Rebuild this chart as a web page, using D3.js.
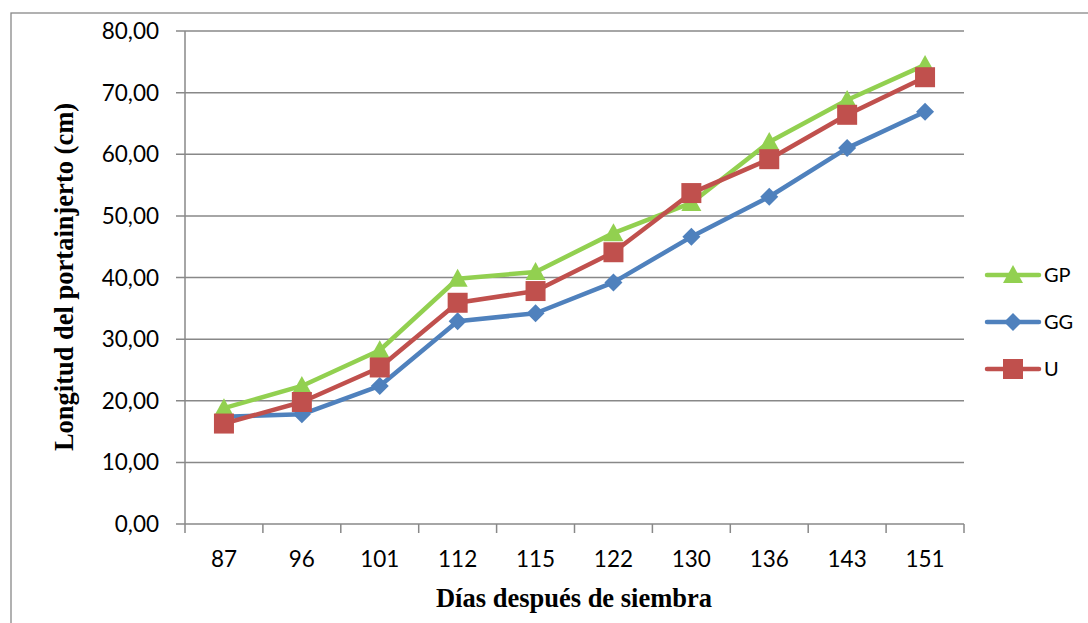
<!DOCTYPE html>
<html><head><meta charset="utf-8">
<script src="https://cdn.jsdelivr.net/npm/d3@7"></script>
<style>body{margin:0;background:#fff;}svg{display:block;}</style>
</head><body>
<script>
const categories = ["87","96","101","112","115","122","130","136","143","151"];
const gp = [18.8, 22.4, 28.2, 39.8, 40.9, 47.2, 52.1, 62.0, 68.8, 74.5];
const gg = [17.4, 17.8, 22.4, 32.9, 34.2, 39.2, 46.6, 53.1, 61.0, 66.9];
const u  = [16.3, 19.8, 25.4, 35.9, 37.8, 44.1, 53.7, 59.2, 66.4, 72.5];
const yTicks = [0,10,20,30,40,50,60,70,80];
const seriesNames = ["GP","GG","U"];

const W=1088,H=623;
const svg=d3.select("body").append("svg").attr("width",W).attr("height",H);
svg.append("rect").attr("x",11).attr("y",13).attr("width",1100).attr("height",700)
  .attr("fill","none").attr("stroke","#888").attr("stroke-width",1.3);

const L=185,R=964,T=31,B=524;
const x=d3.scaleBand().domain(categories).range([L,R]);
const y=d3.scaleLinear().domain([0,80]).range([B,T]);
const fmt=d=>d3.format(".2f")(d).replace(".",",");
const grid="#888";

svg.append("g").selectAll("line").data(yTicks).join("line")
  .attr("x1",L-9).attr("x2",R).attr("y1",d=>y(d)).attr("y2",d=>y(d))
  .attr("stroke",grid).attr("stroke-width",1.5);
svg.append("line").attr("x1",L).attr("x2",L).attr("y1",T).attr("y2",B).attr("stroke",grid).attr("stroke-width",1.5);
const xt=categories.map(c=>x(c)).concat([R]);
svg.append("g").selectAll("line").data(xt).join("line")
  .attr("x1",d=>d).attr("x2",d=>d).attr("y1",B).attr("y2",B+9)
  .attr("stroke",grid).attr("stroke-width",1.5);

const tickFont="Lato, 'Open Sans', sans-serif";
svg.append("g").selectAll("text").data(yTicks).join("text")
  .attr("x",159).attr("y",d=>y(d)).attr("dy","0.36em").attr("text-anchor","end")
  .attr("font-family",tickFont).attr("font-size",22.5).attr("fill","#000").text(fmt);
svg.append("g").selectAll("text").data(categories).join("text")
  .attr("x",d=>x(d)+x.bandwidth()/2).attr("y",559).attr("dy","0.36em").attr("text-anchor","middle")
  .attr("font-family",tickFont).attr("font-size",22.5).attr("fill","#000").text(d=>d);

svg.append("text").attr("x",574).attr("y",607).attr("text-anchor","middle")
  .attr("font-family","'Liberation Serif', serif").attr("font-weight","bold").attr("font-size",26.5)
  .text("Días después de siembra");
svg.append("text").attr("transform","translate(73,277) rotate(-90)").attr("text-anchor","middle")
  .attr("font-family","'Liberation Serif', serif").attr("font-weight","bold").attr("font-size",26.5)
  .text("Longitud del portainjerto (cm)");

const series=[
  {name:"GP",vals:gp,color:"#92D050",shape:"tri"},
  {name:"GG",vals:gg,color:"#4F81BD",shape:"dia"},
  {name:"U",vals:u,color:"#C0504D",shape:"sq"}
];
const drawOrder=[series[1],series[0],series[2]];
function marker(g,shape,color,cx,cy){
  if(shape==="tri"){
    g.append("path").attr("d",`M${cx},${cy-10}L${cx+10},${cy+8}L${cx-10},${cy+8}Z`).attr("fill",color);
  } else if(shape==="dia"){
    g.append("path").attr("d",`M${cx},${cy-9}L${cx+9},${cy}L${cx},${cy+9}L${cx-9},${cy}Z`).attr("fill",color);
  } else {
    g.append("rect").attr("x",cx-10).attr("y",cy-10).attr("width",20).attr("height",20).attr("fill",color);
  }
}
const line=d3.line().x((d,i)=>x(categories[i])+x.bandwidth()/2).y(d=>y(d));
drawOrder.forEach(s=>{
  const g=svg.append("g");
  g.append("path").attr("d",line(s.vals)).attr("fill","none").attr("stroke",s.color).attr("stroke-width",4.5).attr("stroke-linejoin","round");
  s.vals.forEach((v,i)=>marker(g,s.shape,s.color,x(categories[i])+x.bandwidth()/2,y(v)));
});

const ly=[275,322,369];
series.forEach((s,i)=>{
  const g=svg.append("g");
  g.append("line").attr("x1",987).attr("x2",1039).attr("y1",ly[i]).attr("y2",ly[i])
    .attr("stroke",s.color).attr("stroke-width",4.5).attr("stroke-linecap","round");
  marker(g,s.shape,s.color,1013,ly[i]);
  g.append("text").attr("x",1044).attr("y",ly[i]).attr("dy","0.36em")
    .attr("font-family",tickFont).attr("font-size",20).text(s.name);
});
</script>
</body></html>
